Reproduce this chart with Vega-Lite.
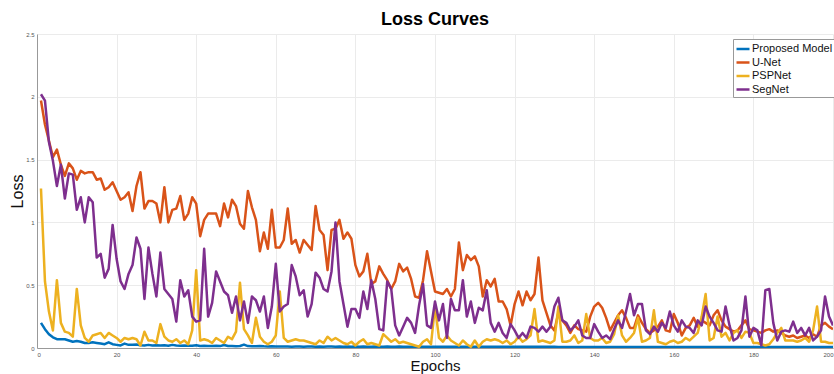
{
  "$schema": "https://vega.github.io/schema/vega-lite/v6.json",
  "width": 796,
  "height": 314,
  "autosize": "none",
  "padding": {"left": 37, "top": 34, "right": 1, "bottom": 26},
  "background": "white",
  "title": {"text": "Loss Curves", "fontSize": 18, "fontWeight": "bold", "font": "Liberation Sans", "color": "#000", "anchor": "middle", "offset": 2},
  "data": {"values": [
    {"epoch":1,"Proposed Model":0.20,"U-Net":1.97,"PSPNet":1.27,"SegNet":2.02},
    {"epoch":2,"Proposed Model":0.15,"U-Net":1.78,"PSPNet":0.53,"SegNet":1.97},
    {"epoch":3,"Proposed Model":0.11,"U-Net":1.65,"PSPNet":0.29,"SegNet":1.64},
    {"epoch":4,"Proposed Model":0.085,"U-Net":1.52,"PSPNet":0.14,"SegNet":1.49},
    {"epoch":5,"Proposed Model":0.07,"U-Net":1.58,"PSPNet":0.54,"SegNet":1.29},
    {"epoch":6,"Proposed Model":0.07,"U-Net":1.46,"PSPNet":0.20,"SegNet":1.46},
    {"epoch":7,"Proposed Model":0.07,"U-Net":1.37,"PSPNet":0.13,"SegNet":1.19},
    {"epoch":8,"Proposed Model":0.06,"U-Net":1.47,"PSPNet":0.12,"SegNet":1.39},
    {"epoch":9,"Proposed Model":0.05,"U-Net":1.43,"PSPNet":0.09,"SegNet":1.38},
    {"epoch":10,"Proposed Model":0.055,"U-Net":1.34,"PSPNet":0.47,"SegNet":1.10},
    {"epoch":11,"Proposed Model":0.05,"U-Net":1.41,"PSPNet":0.18,"SegNet":1.20},
    {"epoch":12,"Proposed Model":0.04,"U-Net":1.39,"PSPNet":0.08,"SegNet":1.00},
    {"epoch":13,"Proposed Model":0.04,"U-Net":1.40,"PSPNet":0.05,"SegNet":1.20},
    {"epoch":14,"Proposed Model":0.045,"U-Net":1.40,"PSPNet":0.10,"SegNet":1.16},
    {"epoch":15,"Proposed Model":0.04,"U-Net":1.34,"PSPNet":0.11,"SegNet":0.72},
    {"epoch":16,"Proposed Model":0.035,"U-Net":1.35,"PSPNet":0.12,"SegNet":0.75},
    {"epoch":17,"Proposed Model":0.03,"U-Net":1.26,"PSPNet":0.08,"SegNet":0.56},
    {"epoch":18,"Proposed Model":0.045,"U-Net":1.28,"PSPNet":0.12,"SegNet":0.63},
    {"epoch":19,"Proposed Model":0.03,"U-Net":1.32,"PSPNet":0.10,"SegNet":0.98},
    {"epoch":20,"Proposed Model":0.025,"U-Net":1.25,"PSPNet":0.08,"SegNet":0.71},
    {"epoch":21,"Proposed Model":0.02,"U-Net":1.18,"PSPNet":0.05,"SegNet":0.53},
    {"epoch":22,"Proposed Model":0.035,"U-Net":1.20,"PSPNet":0.08,"SegNet":0.47},
    {"epoch":23,"Proposed Model":0.025,"U-Net":1.24,"PSPNet":0.07,"SegNet":0.59},
    {"epoch":24,"Proposed Model":0.025,"U-Net":1.09,"PSPNet":0.08,"SegNet":0.66},
    {"epoch":25,"Proposed Model":0.028,"U-Net":1.29,"PSPNet":0.07,"SegNet":0.88},
    {"epoch":26,"Proposed Model":0.022,"U-Net":1.40,"PSPNet":0.02,"SegNet":0.79},
    {"epoch":27,"Proposed Model":0.02,"U-Net":1.11,"PSPNet":0.13,"SegNet":0.39},
    {"epoch":28,"Proposed Model":0.025,"U-Net":1.17,"PSPNet":0.06,"SegNet":0.80},
    {"epoch":29,"Proposed Model":0.02,"U-Net":1.17,"PSPNet":0.06,"SegNet":0.59},
    {"epoch":30,"Proposed Model":0.022,"U-Net":1.15,"PSPNet":0.04,"SegNet":0.41},
    {"epoch":31,"Proposed Model":0.02,"U-Net":1.00,"PSPNet":0.19,"SegNet":0.76},
    {"epoch":32,"Proposed Model":0.022,"U-Net":1.28,"PSPNet":0.09,"SegNet":0.47},
    {"epoch":33,"Proposed Model":0.018,"U-Net":1.00,"PSPNet":0.06,"SegNet":0.43},
    {"epoch":34,"Proposed Model":0.025,"U-Net":1.10,"PSPNet":0.05,"SegNet":0.39},
    {"epoch":35,"Proposed Model":0.02,"U-Net":1.11,"PSPNet":0.07,"SegNet":0.21},
    {"epoch":36,"Proposed Model":0.018,"U-Net":1.21,"PSPNet":0.04,"SegNet":0.54},
    {"epoch":37,"Proposed Model":0.02,"U-Net":1.02,"PSPNet":0.06,"SegNet":0.41},
    {"epoch":38,"Proposed Model":0.017,"U-Net":1.07,"PSPNet":0.03,"SegNet":0.46},
    {"epoch":39,"Proposed Model":0.018,"U-Net":1.20,"PSPNet":0.14,"SegNet":0.25},
    {"epoch":40,"Proposed Model":0.022,"U-Net":1.15,"PSPNet":0.62,"SegNet":0.21},
    {"epoch":41,"Proposed Model":0.016,"U-Net":0.89,"PSPNet":0.06,"SegNet":0.22},
    {"epoch":42,"Proposed Model":0.018,"U-Net":1.02,"PSPNet":0.07,"SegNet":0.79},
    {"epoch":43,"Proposed Model":0.016,"U-Net":1.07,"PSPNet":0.06,"SegNet":0.25},
    {"epoch":44,"Proposed Model":0.015,"U-Net":1.07,"PSPNet":0.04,"SegNet":0.36},
    {"epoch":45,"Proposed Model":0.017,"U-Net":1.07,"PSPNet":0.08,"SegNet":0.61},
    {"epoch":46,"Proposed Model":0.015,"U-Net":0.97,"PSPNet":0.06,"SegNet":0.53},
    {"epoch":47,"Proposed Model":0.024,"U-Net":1.15,"PSPNet":0.04,"SegNet":0.45},
    {"epoch":48,"Proposed Model":0.016,"U-Net":1.04,"PSPNet":0.09,"SegNet":0.42},
    {"epoch":49,"Proposed Model":0.015,"U-Net":1.18,"PSPNet":0.07,"SegNet":0.28},
    {"epoch":50,"Proposed Model":0.014,"U-Net":1.13,"PSPNet":0.13,"SegNet":0.41},
    {"epoch":51,"Proposed Model":0.016,"U-Net":0.99,"PSPNet":0.52,"SegNet":0.22},
    {"epoch":52,"Proposed Model":0.027,"U-Net":0.95,"PSPNet":0.15,"SegNet":0.37},
    {"epoch":53,"Proposed Model":0.015,"U-Net":1.25,"PSPNet":0.10,"SegNet":0.20},
    {"epoch":54,"Proposed Model":0.014,"U-Net":1.12,"PSPNet":0.04,"SegNet":0.41},
    {"epoch":55,"Proposed Model":0.013,"U-Net":1.02,"PSPNet":0.24,"SegNet":0.38},
    {"epoch":56,"Proposed Model":0.015,"U-Net":0.77,"PSPNet":0.09,"SegNet":0.29},
    {"epoch":57,"Proposed Model":0.013,"U-Net":0.92,"PSPNet":0.05,"SegNet":0.41},
    {"epoch":58,"Proposed Model":0.012,"U-Net":0.79,"PSPNet":0.03,"SegNet":0.16},
    {"epoch":59,"Proposed Model":0.014,"U-Net":1.10,"PSPNet":0.05,"SegNet":0.33},
    {"epoch":60,"Proposed Model":0.012,"U-Net":0.80,"PSPNet":0.10,"SegNet":0.67},
    {"epoch":61,"Proposed Model":0.012,"U-Net":0.80,"PSPNet":0.45,"SegNet":0.29},
    {"epoch":62,"Proposed Model":0.011,"U-Net":0.86,"PSPNet":0.08,"SegNet":0.33},
    {"epoch":63,"Proposed Model":0.012,"U-Net":1.11,"PSPNet":0.05,"SegNet":0.35},
    {"epoch":64,"Proposed Model":0.010,"U-Net":0.83,"PSPNet":0.06,"SegNet":0.66},
    {"epoch":65,"Proposed Model":0.011,"U-Net":0.86,"PSPNet":0.07,"SegNet":0.57},
    {"epoch":66,"Proposed Model":0.012,"U-Net":0.76,"PSPNet":0.06,"SegNet":0.42},
    {"epoch":67,"Proposed Model":0.010,"U-Net":0.86,"PSPNet":0.06,"SegNet":0.46},
    {"epoch":68,"Proposed Model":0.011,"U-Net":0.82,"PSPNet":0.05,"SegNet":0.25},
    {"epoch":69,"Proposed Model":0.012,"U-Net":0.78,"PSPNet":0.04,"SegNet":0.35},
    {"epoch":70,"Proposed Model":0.010,"U-Net":1.13,"PSPNet":0.03,"SegNet":0.60},
    {"epoch":71,"Proposed Model":0.011,"U-Net":0.94,"PSPNet":0.06,"SegNet":0.56},
    {"epoch":72,"Proposed Model":0.010,"U-Net":0.90,"PSPNet":0.04,"SegNet":0.47},
    {"epoch":73,"Proposed Model":0.011,"U-Net":0.62,"PSPNet":0.09,"SegNet":0.45},
    {"epoch":74,"Proposed Model":0.012,"U-Net":0.94,"PSPNet":0.06,"SegNet":0.61},
    {"epoch":75,"Proposed Model":0.010,"U-Net":0.95,"PSPNet":0.08,"SegNet":1.00},
    {"epoch":76,"Proposed Model":0.011,"U-Net":1.02,"PSPNet":0.06,"SegNet":0.53},
    {"epoch":77,"Proposed Model":0.010,"U-Net":0.87,"PSPNet":0.04,"SegNet":0.35},
    {"epoch":78,"Proposed Model":0.011,"U-Net":0.92,"PSPNet":0.03,"SegNet":0.17},
    {"epoch":79,"Proposed Model":0.010,"U-Net":0.87,"PSPNet":0.05,"SegNet":0.31},
    {"epoch":80,"Proposed Model":0.011,"U-Net":0.66,"PSPNet":0.02,"SegNet":0.31},
    {"epoch":81,"Proposed Model":0.010,"U-Net":0.57,"PSPNet":0.05,"SegNet":0.24},
    {"epoch":82,"Proposed Model":0.011,"U-Net":0.61,"PSPNet":0.07,"SegNet":0.45},
    {"epoch":83,"Proposed Model":0.010,"U-Net":0.75,"PSPNet":0.03,"SegNet":0.31},
    {"epoch":84,"Proposed Model":0.010,"U-Net":0.51,"PSPNet":0.04,"SegNet":0.54},
    {"epoch":85,"Proposed Model":0.011,"U-Net":0.53,"PSPNet":0.03,"SegNet":0.39},
    {"epoch":86,"Proposed Model":0.010,"U-Net":0.65,"PSPNet":0.02,"SegNet":0.15},
    {"epoch":87,"Proposed Model":0.010,"U-Net":0.59,"PSPNet":0.11,"SegNet":0.14},
    {"epoch":88,"Proposed Model":0.011,"U-Net":0.54,"PSPNet":0.08,"SegNet":0.53},
    {"epoch":89,"Proposed Model":0.010,"U-Net":0.47,"PSPNet":0.05,"SegNet":0.47},
    {"epoch":90,"Proposed Model":0.010,"U-Net":0.53,"PSPNet":0.07,"SegNet":0.18},
    {"epoch":91,"Proposed Model":0.011,"U-Net":0.67,"PSPNet":0.04,"SegNet":0.10},
    {"epoch":92,"Proposed Model":0.010,"U-Net":0.61,"PSPNet":0.05,"SegNet":0.17},
    {"epoch":93,"Proposed Model":0.010,"U-Net":0.64,"PSPNet":0.04,"SegNet":0.24},
    {"epoch":94,"Proposed Model":0.010,"U-Net":0.55,"PSPNet":0.03,"SegNet":0.20},
    {"epoch":95,"Proposed Model":0.011,"U-Net":0.41,"PSPNet":0.02,"SegNet":0.12},
    {"epoch":96,"Proposed Model":0.010,"U-Net":0.40,"PSPNet":0.01,"SegNet":0.34},
    {"epoch":97,"Proposed Model":0.010,"U-Net":0.54,"PSPNet":0.05,"SegNet":0.51},
    {"epoch":98,"Proposed Model":0.010,"U-Net":0.77,"PSPNet":0.07,"SegNet":0.18},
    {"epoch":99,"Proposed Model":0.010,"U-Net":0.61,"PSPNet":0.03,"SegNet":0.16},
    {"epoch":100,"Proposed Model":0.010,"U-Net":0.45,"PSPNet":0.33,"SegNet":0.37},
    {"epoch":101,"Proposed Model":0.009,"U-Net":0.44,"PSPNet":0.08,"SegNet":0.22},
    {"epoch":102,"Proposed Model":0.009,"U-Net":0.43,"PSPNet":0.05,"SegNet":0.35},
    {"epoch":103,"Proposed Model":0.010,"U-Net":0.47,"PSPNet":0.10,"SegNet":0.08},
    {"epoch":104,"Proposed Model":0.009,"U-Net":0.41,"PSPNet":0.06,"SegNet":0.39},
    {"epoch":105,"Proposed Model":0.009,"U-Net":0.47,"PSPNet":0.04,"SegNet":0.30},
    {"epoch":106,"Proposed Model":0.009,"U-Net":0.84,"PSPNet":0.02,"SegNet":0.30},
    {"epoch":107,"Proposed Model":0.010,"U-Net":0.62,"PSPNet":0.06,"SegNet":0.54},
    {"epoch":108,"Proposed Model":0.009,"U-Net":0.74,"PSPNet":0.03,"SegNet":0.25},
    {"epoch":109,"Proposed Model":0.009,"U-Net":0.70,"PSPNet":0.01,"SegNet":0.37},
    {"epoch":110,"Proposed Model":0.009,"U-Net":0.73,"PSPNet":0.06,"SegNet":0.20},
    {"epoch":111,"Proposed Model":0.010,"U-Net":0.65,"PSPNet":0.01,"SegNet":0.32},
    {"epoch":112,"Proposed Model":0.009,"U-Net":0.41,"PSPNet":0.05,"SegNet":0.30},
    {"epoch":113,"Proposed Model":0.009,"U-Net":0.54,"PSPNet":0.07,"SegNet":0.46},
    {"epoch":114,"Proposed Model":0.009,"U-Net":0.49,"PSPNet":0.06,"SegNet":0.20},
    {"epoch":115,"Proposed Model":0.009,"U-Net":0.55,"PSPNet":0.07,"SegNet":0.13},
    {"epoch":116,"Proposed Model":0.009,"U-Net":0.37,"PSPNet":0.06,"SegNet":0.20},
    {"epoch":117,"Proposed Model":0.009,"U-Net":0.37,"PSPNet":0.04,"SegNet":0.12},
    {"epoch":118,"Proposed Model":0.009,"U-Net":0.31,"PSPNet":0.06,"SegNet":0.08},
    {"epoch":119,"Proposed Model":0.009,"U-Net":0.18,"PSPNet":0.03,"SegNet":0.19},
    {"epoch":120,"Proposed Model":0.009,"U-Net":0.35,"PSPNet":0.05,"SegNet":0.14},
    {"epoch":121,"Proposed Model":0.009,"U-Net":0.45,"PSPNet":0.09,"SegNet":0.08},
    {"epoch":122,"Proposed Model":0.009,"U-Net":0.34,"PSPNet":0.05,"SegNet":0.12},
    {"epoch":123,"Proposed Model":0.009,"U-Net":0.45,"PSPNet":0.07,"SegNet":0.08},
    {"epoch":124,"Proposed Model":0.009,"U-Net":0.38,"PSPNet":0.10,"SegNet":0.17},
    {"epoch":125,"Proposed Model":0.009,"U-Net":0.43,"PSPNet":0.31,"SegNet":0.16},
    {"epoch":126,"Proposed Model":0.009,"U-Net":0.72,"PSPNet":0.05,"SegNet":0.13},
    {"epoch":127,"Proposed Model":0.009,"U-Net":0.38,"PSPNet":0.06,"SegNet":0.17},
    {"epoch":128,"Proposed Model":0.009,"U-Net":0.28,"PSPNet":0.05,"SegNet":0.13},
    {"epoch":129,"Proposed Model":0.009,"U-Net":0.18,"PSPNet":0.04,"SegNet":0.17},
    {"epoch":130,"Proposed Model":0.009,"U-Net":0.14,"PSPNet":0.06,"SegNet":0.33},
    {"epoch":131,"Proposed Model":0.008,"U-Net":0.28,"PSPNet":0.33,"SegNet":0.40},
    {"epoch":132,"Proposed Model":0.008,"U-Net":0.22,"PSPNet":0.05,"SegNet":0.22},
    {"epoch":133,"Proposed Model":0.008,"U-Net":0.18,"PSPNet":0.05,"SegNet":0.20},
    {"epoch":134,"Proposed Model":0.008,"U-Net":0.12,"PSPNet":0.06,"SegNet":0.14},
    {"epoch":135,"Proposed Model":0.008,"U-Net":0.18,"PSPNet":0.10,"SegNet":0.17},
    {"epoch":136,"Proposed Model":0.008,"U-Net":0.15,"PSPNet":0.04,"SegNet":0.22},
    {"epoch":137,"Proposed Model":0.008,"U-Net":0.14,"PSPNet":0.06,"SegNet":0.10},
    {"epoch":138,"Proposed Model":0.008,"U-Net":0.13,"PSPNet":0.27,"SegNet":0.08},
    {"epoch":139,"Proposed Model":0.008,"U-Net":0.25,"PSPNet":0.08,"SegNet":0.08},
    {"epoch":140,"Proposed Model":0.008,"U-Net":0.33,"PSPNet":0.06,"SegNet":0.19},
    {"epoch":141,"Proposed Model":0.008,"U-Net":0.36,"PSPNet":0.06,"SegNet":0.13},
    {"epoch":142,"Proposed Model":0.008,"U-Net":0.32,"PSPNet":0.08,"SegNet":0.08},
    {"epoch":143,"Proposed Model":0.008,"U-Net":0.24,"PSPNet":0.04,"SegNet":0.10},
    {"epoch":144,"Proposed Model":0.008,"U-Net":0.14,"PSPNet":0.05,"SegNet":0.07},
    {"epoch":145,"Proposed Model":0.008,"U-Net":0.20,"PSPNet":0.11,"SegNet":0.15},
    {"epoch":146,"Proposed Model":0.008,"U-Net":0.26,"PSPNet":0.26,"SegNet":0.22},
    {"epoch":147,"Proposed Model":0.008,"U-Net":0.30,"PSPNet":0.10,"SegNet":0.16},
    {"epoch":148,"Proposed Model":0.008,"U-Net":0.24,"PSPNet":0.05,"SegNet":0.29},
    {"epoch":149,"Proposed Model":0.008,"U-Net":0.16,"PSPNet":0.08,"SegNet":0.43},
    {"epoch":150,"Proposed Model":0.008,"U-Net":0.16,"PSPNet":0.12,"SegNet":0.26},
    {"epoch":151,"Proposed Model":0.008,"U-Net":0.26,"PSPNet":0.24,"SegNet":0.35},
    {"epoch":152,"Proposed Model":0.008,"U-Net":0.20,"PSPNet":0.05,"SegNet":0.35},
    {"epoch":153,"Proposed Model":0.008,"U-Net":0.15,"PSPNet":0.06,"SegNet":0.14},
    {"epoch":154,"Proposed Model":0.008,"U-Net":0.12,"PSPNet":0.08,"SegNet":0.11},
    {"epoch":155,"Proposed Model":0.008,"U-Net":0.14,"PSPNet":0.30,"SegNet":0.17},
    {"epoch":156,"Proposed Model":0.008,"U-Net":0.17,"PSPNet":0.05,"SegNet":0.13},
    {"epoch":157,"Proposed Model":0.008,"U-Net":0.22,"PSPNet":0.04,"SegNet":0.20},
    {"epoch":158,"Proposed Model":0.008,"U-Net":0.14,"PSPNet":0.03,"SegNet":0.16},
    {"epoch":159,"Proposed Model":0.008,"U-Net":0.13,"PSPNet":0.05,"SegNet":0.29},
    {"epoch":160,"Proposed Model":0.008,"U-Net":0.27,"PSPNet":0.06,"SegNet":0.18},
    {"epoch":161,"Proposed Model":0.008,"U-Net":0.20,"PSPNet":0.04,"SegNet":0.13},
    {"epoch":162,"Proposed Model":0.008,"U-Net":0.10,"PSPNet":0.05,"SegNet":0.22},
    {"epoch":163,"Proposed Model":0.008,"U-Net":0.16,"PSPNet":0.08,"SegNet":0.17},
    {"epoch":164,"Proposed Model":0.008,"U-Net":0.18,"PSPNet":0.06,"SegNet":0.16},
    {"epoch":165,"Proposed Model":0.008,"U-Net":0.24,"PSPNet":0.09,"SegNet":0.12},
    {"epoch":166,"Proposed Model":0.008,"U-Net":0.17,"PSPNet":0.12,"SegNet":0.22},
    {"epoch":167,"Proposed Model":0.008,"U-Net":0.22,"PSPNet":0.25,"SegNet":0.18},
    {"epoch":168,"Proposed Model":0.008,"U-Net":0.20,"PSPNet":0.43,"SegNet":0.33},
    {"epoch":169,"Proposed Model":0.008,"U-Net":0.18,"PSPNet":0.06,"SegNet":0.25},
    {"epoch":170,"Proposed Model":0.008,"U-Net":0.26,"PSPNet":0.08,"SegNet":0.20},
    {"epoch":171,"Proposed Model":0.008,"U-Net":0.30,"PSPNet":0.25,"SegNet":0.14},
    {"epoch":172,"Proposed Model":0.008,"U-Net":0.22,"PSPNet":0.09,"SegNet":0.13},
    {"epoch":173,"Proposed Model":0.008,"U-Net":0.17,"PSPNet":0.12,"SegNet":0.33},
    {"epoch":174,"Proposed Model":0.008,"U-Net":0.15,"PSPNet":0.06,"SegNet":0.18},
    {"epoch":175,"Proposed Model":0.008,"U-Net":0.13,"PSPNet":0.12,"SegNet":0.06},
    {"epoch":176,"Proposed Model":0.008,"U-Net":0.14,"PSPNet":0.14,"SegNet":0.08},
    {"epoch":177,"Proposed Model":0.008,"U-Net":0.18,"PSPNet":0.08,"SegNet":0.14},
    {"epoch":178,"Proposed Model":0.008,"U-Net":0.22,"PSPNet":0.13,"SegNet":0.41},
    {"epoch":179,"Proposed Model":0.008,"U-Net":0.15,"PSPNet":0.12,"SegNet":0.09},
    {"epoch":180,"Proposed Model":0.008,"U-Net":0.14,"PSPNet":0.04,"SegNet":0.16},
    {"epoch":181,"Proposed Model":0.008,"U-Net":0.13,"PSPNet":0.04,"SegNet":0.14},
    {"epoch":182,"Proposed Model":0.008,"U-Net":0.12,"PSPNet":0.03,"SegNet":0.02},
    {"epoch":183,"Proposed Model":0.008,"U-Net":0.14,"PSPNet":0.02,"SegNet":0.46},
    {"epoch":184,"Proposed Model":0.008,"U-Net":0.15,"PSPNet":0.03,"SegNet":0.47},
    {"epoch":185,"Proposed Model":0.008,"U-Net":0.13,"PSPNet":0.07,"SegNet":0.20},
    {"epoch":186,"Proposed Model":0.008,"U-Net":0.14,"PSPNet":0.12,"SegNet":0.06},
    {"epoch":187,"Proposed Model":0.008,"U-Net":0.12,"PSPNet":0.16,"SegNet":0.13},
    {"epoch":188,"Proposed Model":0.008,"U-Net":0.10,"PSPNet":0.06,"SegNet":0.14},
    {"epoch":189,"Proposed Model":0.008,"U-Net":0.09,"PSPNet":0.06,"SegNet":0.13},
    {"epoch":190,"Proposed Model":0.008,"U-Net":0.10,"PSPNet":0.06,"SegNet":0.21},
    {"epoch":191,"Proposed Model":0.008,"U-Net":0.08,"PSPNet":0.05,"SegNet":0.12},
    {"epoch":192,"Proposed Model":0.008,"U-Net":0.09,"PSPNet":0.06,"SegNet":0.16},
    {"epoch":193,"Proposed Model":0.008,"U-Net":0.10,"PSPNet":0.08,"SegNet":0.10},
    {"epoch":194,"Proposed Model":0.008,"U-Net":0.08,"PSPNet":0.05,"SegNet":0.16},
    {"epoch":195,"Proposed Model":0.008,"U-Net":0.11,"PSPNet":0.14,"SegNet":0.06},
    {"epoch":196,"Proposed Model":0.008,"U-Net":0.09,"PSPNet":0.33,"SegNet":0.09},
    {"epoch":197,"Proposed Model":0.008,"U-Net":0.18,"PSPNet":0.05,"SegNet":0.14},
    {"epoch":198,"Proposed Model":0.008,"U-Net":0.20,"PSPNet":0.05,"SegNet":0.41},
    {"epoch":199,"Proposed Model":0.008,"U-Net":0.17,"PSPNet":0.04,"SegNet":0.25},
    {"epoch":200,"Proposed Model":0.008,"U-Net":0.15,"PSPNet":0.04,"SegNet":0.18}
  ]},
  "transform": [
    {"fold": ["Proposed Model", "U-Net", "PSPNet", "SegNet"], "as": ["model", "loss"]}
  ],
  "mark": {"type": "line", "strokeWidth": 2.5, "clip": true, "strokeJoin": "round"},
  "encoding": {
    "x": {
      "field": "epoch", "type": "quantitative",
      "scale": {"domain": [0, 200], "nice": false, "zero": false},
      "axis": {"title": "Epochs", "values": [0,20,40,60,80,100,120,140,160,180,200], "labelFontSize": 6, "labelColor": "#555", "labelFont": "Liberation Sans", "ticks": false, "labelPadding": 3, "domainColor": "#999", "gridColor": "#ebebeb", "titleFontSize": 15, "titleFontWeight": "normal", "titleFont": "Liberation Sans", "titleColor": "#111", "titlePadding": 1, "labelOverlap": false}
    },
    "y": {
      "field": "loss", "type": "quantitative",
      "scale": {"domain": [0, 2.5], "nice": false},
      "axis": {"title": "Loss", "values": [0,0.5,1,1.5,2,2.5], "format": "~g", "labelFontSize": 6, "labelColor": "#555", "labelFont": "Liberation Sans", "ticks": false, "labelPadding": 3, "domainColor": "#999", "gridColor": "#ebebeb", "titleFontSize": 16, "titleFontWeight": "normal", "titleFont": "Liberation Sans", "titleColor": "#111", "titlePadding": 0}
    },
    "color": {
      "field": "model", "type": "nominal",
      "scale": {"domain": ["Proposed Model", "U-Net", "PSPNet", "SegNet"], "range": ["#0072BD", "#D95319", "#EDB120", "#7E2F8E"]},
      "sort": ["Proposed Model", "U-Net", "PSPNet", "SegNet"],
      "legend": {"title": null, "orient": "none", "legendX": 696, "legendY": 5, "symbolType": "stroke", "symbolStrokeWidth": 2.5, "symbolSize": 169, "labelFontSize": 11, "labelFont": "Liberation Sans", "labelColor": "#111", "labelOffset": 1, "rowPadding": 0.5, "padding": 2, "strokeColor": "#999", "fillColor": "white", "labelLimit": 200}
    }
  },
  "config": {"view": {"stroke": null}, "axis": {"gridWidth": 1}}
}
